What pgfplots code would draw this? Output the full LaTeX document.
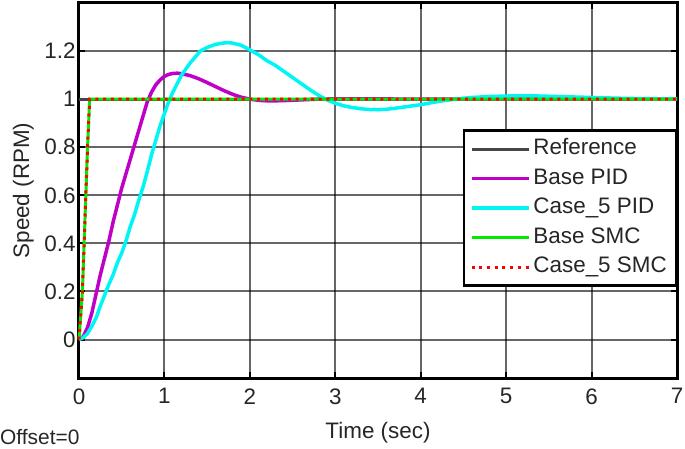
\documentclass[border=0pt]{standalone}
\usepackage{pgfplots}
\pgfplotsset{compat=1.18}
\usepackage{fontspec}
\setmainfont{Liberation Sans}

\definecolor{pidbase}{RGB}{190,0,200}
\definecolor{pidcase}{RGB}{0,245,245}
\definecolor{smcbase}{RGB}{0,235,0}
\definecolor{smccase}{RGB}{255,0,0}
\definecolor{refline}{RGB}{70,70,70}
\definecolor{txt}{RGB}{38,38,38}

\pgfplotstableread{
t y
0 0
0.05 0.012
0.1 0.05
0.15 0.11
0.2 0.19
0.25 0.27
0.3 0.34
0.35 0.41
0.4 0.49
0.45 0.56
0.5 0.63
0.55 0.69
0.6 0.75
0.65 0.81
0.7 0.87
0.75 0.93
0.8 0.99
0.85 1.03
0.9 1.06
0.95 1.08
1.0 1.095
1.05 1.103
1.1 1.107
1.15 1.108
1.2 1.106
1.3 1.098
1.4 1.085
1.5 1.069
1.6 1.052
1.7 1.035
1.8 1.02
1.9 1.008
2.0 1.0
2.1 0.995
2.2 0.993
2.3 0.993
2.4 0.994
2.6 0.997
2.8 1.0
3.0 1.001
3.5 1.001
4 1.0
7 1.0
}\pidbase

\pgfplotstableread{
t y
0 0
0.05 0.008
0.1 0.025
0.15 0.055
0.2 0.09
0.25 0.14
0.3 0.185
0.35 0.23
0.4 0.27
0.45 0.32
0.5 0.36
0.55 0.41
0.6 0.47
0.65 0.52
0.7 0.58
0.75 0.635
0.8 0.7
0.85 0.77
0.9 0.83
0.95 0.89
1.0 0.94
1.05 0.99
1.1 1.03
1.2 1.10
1.3 1.15
1.42 1.2
1.5 1.215
1.6 1.228
1.7 1.234
1.75 1.235
1.8 1.233
1.9 1.224
2.0 1.205
2.1 1.185
2.2 1.16
2.3 1.14
2.4 1.115
2.5 1.09
2.6 1.065
2.7 1.04
2.8 1.017
2.9 0.997
3.0 0.983
3.1 0.972
3.2 0.965
3.3 0.96
3.4 0.957
3.5 0.956
3.6 0.958
3.7 0.962
3.8 0.967
4.0 0.977
4.2 0.99
4.4 1.0
4.6 1.007
4.8 1.011
5.0 1.013
5.2 1.014
5.4 1.013
5.6 1.011
5.8 1.009
6.0 1.007
6.3 1.004
6.6 1.002
7 1.001
}\pidcase

\begin{document}
\begin{tikzpicture}[font=\fontsize{22.5}{27}\selectfont, text=txt]
\begin{axis}[
	width=598bp, height=375bp,
	scale only axis,
	xmin=0, xmax=7,
	ymin=-0.16, ymax=1.4,
	xtick={0,1,2,3,4,5,6,7},
	ytick={0,0.2,0.4,0.6,0.8,1,1.2},
	/pgf/number format/assume math mode=true,
	xticklabel style={yshift=-7bp},
	grid=major,
	major grid style={line width=2bp, black, opacity=0.6},
	axis line style={line width=3bp, black},
	tick style={line width=2bp, black},
	major tick length=6bp,
	clip=false,
	xlabel={Time (sec)},
	ylabel={Speed (RPM)},
	xlabel style={at={(axis description cs:0.5,-0.147)}, anchor=center},
	ylabel style={at={(axis description cs:-0.093,0.5)}, anchor=center},
	legend style={at={(1,0.453)}, anchor=east, draw=black, line width=2.5bp,
		fill=white, font=\fontsize{22.5}{27}\selectfont, text=txt,
		row sep=6.5bp, inner xsep=6bp, inner ysep=7bp,
		nodes={inner xsep=3bp, inner ysep=1bp, text height=16bp, text depth=5bp}},
	legend cell align=left,
	legend image code/.code={\draw[#1] (0bp,0bp) -- (57bp,0bp);},
]
\addplot[refline, line width=3bp] coordinates {(0,1) (7,1)};
\addlegendentry{Reference}
\addplot[pidbase, line width=3.5bp] table[x=t, y=y] {\pidbase};
\addlegendentry{Base PID}
\addplot[pidcase, line width=3.5bp] table[x=t, y=y] {\pidcase};
\addlegendentry{Case\_5 PID}
\addplot[smcbase, line width=3bp] coordinates {(0,0) (0.04,0.2) (0.06,0.4) (0.08,0.6) (0.1,0.8) (0.125,1) (7,1)};
\addlegendentry{Base SMC}
\addplot[smccase, line width=3bp, dash pattern=on 3bp off 4.7bp] coordinates {(0,0) (0.04,0.2) (0.06,0.4) (0.08,0.6) (0.1,0.8) (0.125,1) (7,1)};
\addlegendentry{Case\_5 SMC}
\node[anchor=west, inner sep=0pt, font=\fontsize{21}{25}\selectfont] at (rel axis cs:-0.1321,-0.157) {Offset=0};
\end{axis}
\pgfresetboundingbox
\path[use as bounding box] ([shift={(-79bp,-71bp)}]current axis.south west) rectangle ([shift={(8bp,3bp)}]current axis.north east);
\end{tikzpicture}
\end{document}
